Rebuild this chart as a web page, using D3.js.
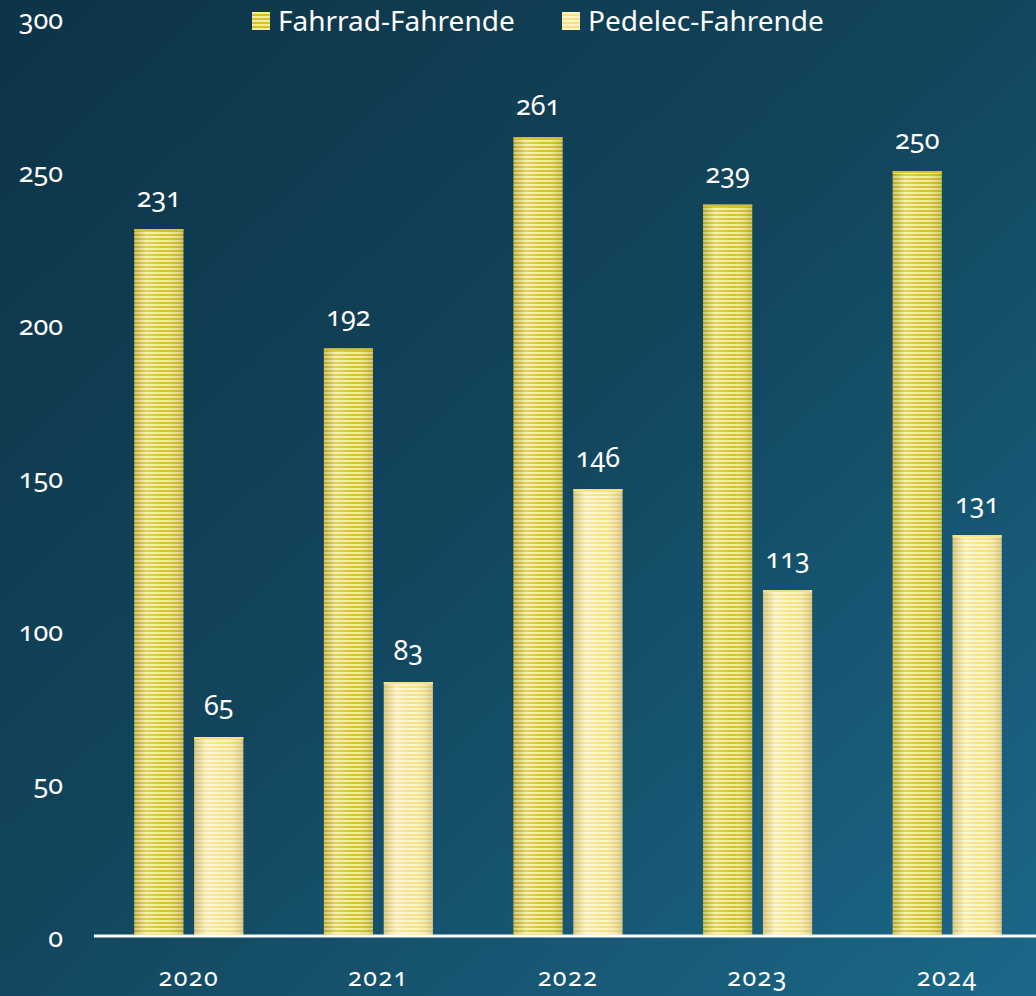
<!DOCTYPE html>
<html><head><meta charset="utf-8">
<script src="https://cdn.jsdelivr.net/npm/d3@7"></script>
<style>
html,body{margin:0;padding:0;background:#0e3a50;}
svg{display:block;font-family:"Noto Sans",sans-serif;font-variant-numeric:oldstyle-nums;font-feature-settings:"onum" 1;}
</style></head>
<body>
<svg id="chart" width="1036" height="996"></svg>
<script>
const years = ["2020","2021","2022","2023","2024"];
const seriesNames = ["Fahrrad-Fahrende","Pedelec-Fahrende"];
const fahrrad = [231,192,261,239,250];
const pedelec = [65,83,146,113,131];
const yTicks = [0,50,100,150,200,250,300];

const W=1036,H=996;
const svg=d3.select("#chart");
const defs=svg.append("defs");
const bg=defs.append("linearGradient").attr("id","bg").attr("gradientUnits","userSpaceOnUse")
  .attr("x1",100).attr("y1",0).attr("x2",W).attr("y2",H);
bg.append("stop").attr("offset","0").attr("stop-color","#0d3549");
bg.append("stop").attr("offset","0.45").attr("stop-color","#12455c");
bg.append("stop").attr("offset","1").attr("stop-color","#1b6889");
svg.append("rect").attr("width",W).attr("height",H).attr("fill","url(#bg)");

const colors=[["#d4c12d","#f4ec9a"],["#f7e184","#fff4c6"]];
colors.forEach((c,i)=>{
  const p=defs.append("pattern").attr("id","pat"+i).attr("patternUnits","userSpaceOnUse").attr("width",8).attr("height",4);
  p.append("rect").attr("width",8).attr("height",4).attr("fill",c[1]);
  p.append("rect").attr("width",8).attr("height",2).attr("y",2).attr("fill",c[0]);
});
const sh=defs.append("linearGradient").attr("id","shade").attr("x1","0").attr("x2","1").attr("y1","0").attr("y2","0");
sh.append("stop").attr("offset","0").attr("stop-color","#6b5a00").attr("stop-opacity",0.25);
sh.append("stop").attr("offset","0.25").attr("stop-color","#ffffff").attr("stop-opacity",0.25);
sh.append("stop").attr("offset","0.6").attr("stop-color","#ffffff").attr("stop-opacity",0.0);
sh.append("stop").attr("offset","1").attr("stop-color","#6b5a00").attr("stop-opacity",0.25);

const y=d3.scaleLinear().domain([0,300]).range([936,18]);
const x0=d3.scaleBand().domain(years).range([94,1042]);
const x1=d3.scaleBand().domain(seriesNames).range([0,109]).paddingInner(0.18);

// y axis labels
const yAxis=d3.axisLeft(y).tickValues(yTicks).tickSize(0).tickPadding(0);
const ya=svg.append("g").attr("transform","translate(63,2)").call(yAxis);
ya.select(".domain").remove();
ya.selectAll("text").attr("fill","#fff").attr("font-size",27).attr("font-family","Noto Sans").style("font-variant-numeric","oldstyle-nums");

const data=years.map((yr,i)=>({year:yr,vals:[fahrrad[i],pedelec[i]]}));
const g=svg.append("g").selectAll("g").data(data).join("g")
  .attr("transform",d=>`translate(${x0(d.year)+x0.bandwidth()/2-54.5},0)`);
const bars=g.selectAll("g").data(d=>d.vals.map((v,i)=>({v,i,s:seriesNames[i]}))).join("g");
bars.append("rect").attr("x",d=>x1(d.s)).attr("y",d=>y(d.v)).attr("width",x1.bandwidth()).attr("height",d=>y(0)-y(d.v)).attr("fill",d=>`url(#pat${d.i})`);
bars.append("rect").attr("x",d=>x1(d.s)).attr("y",d=>y(d.v)).attr("width",x1.bandwidth()).attr("height",d=>y(0)-y(d.v)).attr("fill","url(#shade)");
bars.append("rect").attr("x",d=>x1(d.s)).attr("y",d=>y(d.v)).attr("width",x1.bandwidth()).attr("height",2).attr("fill",d=>colors[d.i][0]);
bars.append("text").attr("x",d=>x1(d.s)+x1.bandwidth()/2).attr("y",d=>y(d.v)-22).attr("text-anchor","middle")
  .attr("fill","#fff").attr("font-size",27).text(d=>d.v);

// x axis
const xAxis=d3.axisBottom(x0).tickSize(0).tickPadding(0);
const xa=svg.append("g").attr("transform","translate(0,936)").call(xAxis);
xa.select(".domain").remove();
xa.selectAll("text").attr("fill","#fff").attr("font-size",25).attr("font-family","Noto Sans").attr("letter-spacing","1.5px").attr("dy","2.0em").style("font-variant-numeric","oldstyle-nums");
svg.append("line").attr("x1",94).attr("x2",1036).attr("y1",936).attr("y2",936).attr("stroke","#fff").attr("stroke-width",3);

// legend
const leg=svg.append("g");
const lx=[252,562];
seriesNames.forEach((s,i)=>{
  leg.append("rect").attr("x",lx[i]).attr("y",12).attr("width",18).attr("height",18).attr("fill",`url(#pat${i})`);
  leg.append("text").attr("x",lx[i]+26).attr("y",31).attr("fill","#fff").attr("font-size",28).text(s);
});
</script>
</body></html>
